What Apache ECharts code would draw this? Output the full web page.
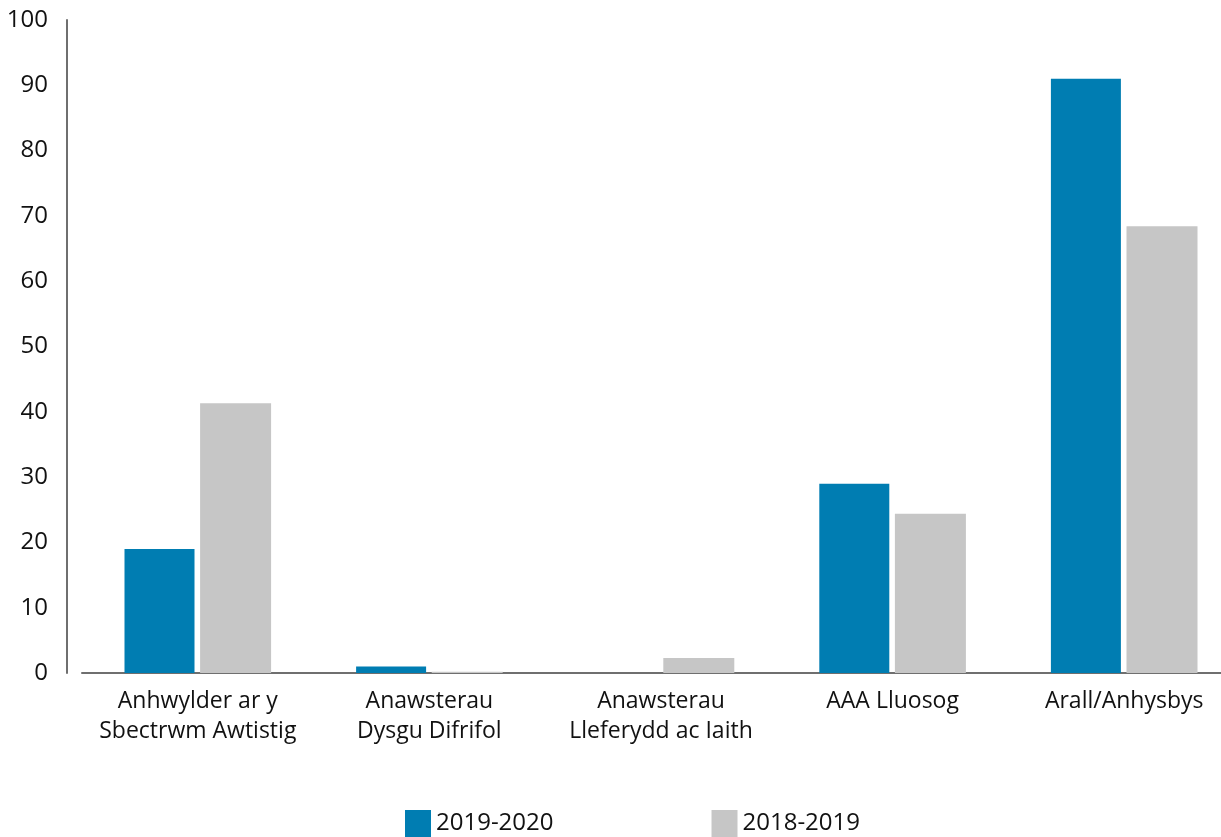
<!DOCTYPE html>
<html>
<head>
<meta charset="utf-8">
<script src="https://cdn.jsdelivr.net/npm/echarts@6/dist/echarts.min.js"></script>
<style>
  html, body { margin: 0; padding: 0; background: #fff; overflow: hidden; }
  #chart { width: 1240px; height: 837px; }
</style>
</head>
<body>
<div id="chart"></div>
<script>
const categories = [
  'Anhwylder ar y\nSbectrwm Awtistig',
  'Anawsterau\nDysgu Difrifol',
  'Anawsterau\nLleferydd ac Iaith',
  'AAA Lluosog',
  'Arall/Anhysbys'
];
const values2019 = [19, 1, 0, 29, 91];
const values2018 = [41.3, 0.2, 2.3, 24.4, 68.4];
const yTicks = { min: 0, max: 100, interval: 10 };

const fontFamily = '"Open Sans", "Noto Sans", sans-serif';
// canvas is a bit wider than the window so the last group sits at the right edge
const chart = echarts.init(document.getElementById('chart'));

chart.setOption({
  animation: false,
  textStyle: { fontFamily: fontFamily },
  grid: { left: 82, right: 0, top: 20, bottom: 164, containLabel: false },
  legend: {
    left: 400,
    top: 805,
    itemWidth: 26,
    itemHeight: 27,
    itemGap: 158,
    icon: 'rect',
    textStyle: { fontSize: 24, color: '#111', fontFamily: fontFamily },
    data: ['2019-2020', '2018-2019']
  },
  xAxis: {
    type: 'category',
    data: categories,
    axisLine: { lineStyle: { color: '#6f6f6f', width: 2 } },
    axisTick: { show: false },
    axisLabel: { fontSize: 23, color: '#111', lineHeight: 30, margin: 13, interval: 0 }
  },
  yAxis: {
    type: 'value',
    min: yTicks.min,
    max: yTicks.max,
    interval: yTicks.interval,
    offset: 15,
    axisLine: { show: true, lineStyle: { color: '#6f6f6f', width: 2 } },
    axisTick: { show: false },
    splitLine: { show: false },
    axisLabel: { fontSize: 24, color: '#111', margin: 19 }
  },
  series: [
    {
      name: '2019-2020',
      type: 'bar',
      data: values2019,
      barWidth: 70,
      barGap: '8%',
      itemStyle: { color: '#007db2' }
    },
    {
      name: '2018-2019',
      type: 'bar',
      data: values2018,
      barWidth: 71,
      itemStyle: { color: '#c6c6c6' }
    }
  ]
});
</script>
</body>
</html>
